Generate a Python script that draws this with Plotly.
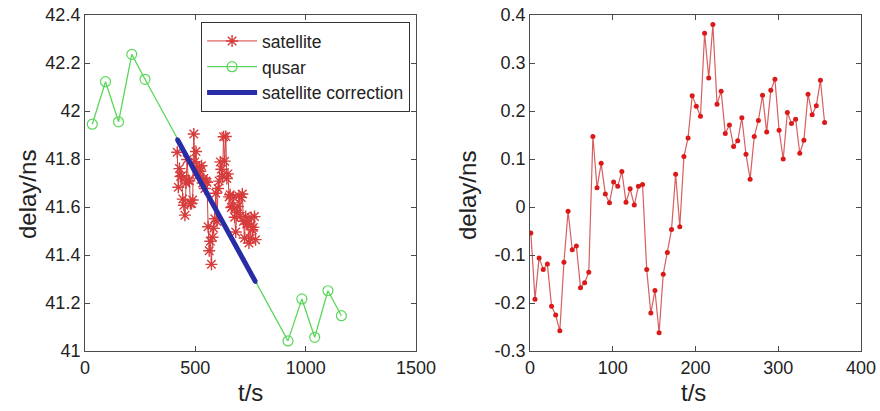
import plotly.graph_objects as go

# ---- left panel: absolute delays ----
qusar_time = [33, 93, 152, 212, 272, 920, 983, 1041, 1101, 1162]
qusar_delay = [41.945, 42.122, 41.955, 42.236, 42.132, 41.042, 41.217, 41.057, 41.251, 41.147]

sat_time = [418, 423, 428, 433, 438, 443, 448, 453, 458, 463, 468, 473, 478, 483, 488, 493,
            498, 503, 508, 513, 518, 523, 528, 533, 538, 543, 548, 553, 558, 563, 568, 573,
            578, 583, 588, 593, 598, 603, 608, 613, 618, 623, 628, 633, 638, 643, 648, 653,
            658, 663, 668, 673, 678, 683, 688, 693, 698, 703, 708, 713, 718, 723, 728, 733,
            738, 743, 748, 753, 758, 763, 768, 773]
sat_delay = [41.828, 41.682, 41.760, 41.727, 41.730, 41.633, 41.607, 41.566, 41.700, 41.798,
             41.710, 41.709, 41.614, 41.615, 41.629, 41.904, 41.788, 41.831, 41.759, 41.732,
             41.767, 41.749, 41.772, 41.700, 41.719, 41.677, 41.708, 41.703, 41.518, 41.418,
             41.457, 41.361, 41.474, 41.511, 41.551, 41.657, 41.540, 41.677, 41.708, 41.788,
             41.757, 41.728, 41.893, 41.791, 41.894, 41.719, 41.738, 41.642, 41.651, 41.598,
             41.602, 41.641, 41.557, 41.496, 41.577, 41.602, 41.646, 41.561, 41.640, 41.654,
             41.540, 41.471, 41.560, 41.529, 41.529, 41.450, 41.469, 41.556, 41.505, 41.515,
             41.560, 41.464]

corr_time = [418, 773]
corr_delay = [41.882, 41.288]

# ---- right panel: satellite residual after correction ----
res_time = [1, 6, 11, 16, 21, 26, 31, 36, 41, 46, 51, 56, 61, 66, 71, 76, 81, 86, 91, 96,
            101, 106, 111, 116, 121, 126, 131, 136, 141, 146, 151, 156, 161, 166, 171, 176,
            181, 186, 191, 196, 201, 206, 211, 216, 221, 226, 231, 236, 241, 246, 251, 256,
            261, 266, 271, 276, 281, 286, 291, 296, 301, 306, 311, 316, 321, 326, 331, 336,
            341, 346, 351, 356]
res_delay = [-0.054, -0.192, -0.106, -0.130, -0.119, -0.207, -0.225, -0.258, -0.115, -0.009,
             -0.089, -0.081, -0.168, -0.158, -0.136, 0.147, 0.040, 0.091, 0.027, 0.009,
             0.052, 0.043, 0.074, 0.010, 0.038, 0.004, 0.043, 0.047, -0.130, -0.221,
             -0.174, -0.262, -0.140, -0.095, -0.047, 0.068, -0.041, 0.105, 0.144, 0.232,
             0.210, 0.189, 0.362, 0.269, 0.380, 0.214, 0.241, 0.153, 0.171, 0.126,
             0.138, 0.186, 0.110, 0.058, 0.147, 0.180, 0.233, 0.156, 0.243, 0.266,
             0.160, 0.100, 0.197, 0.174, 0.183, 0.112, 0.139, 0.235, 0.192, 0.211,
             0.264, 0.176]

left_yticks = [41, 41.2, 41.4, 41.6, 41.8, 42, 42.2, 42.4]
left_ytext = ["41", "41.2", "41.4", "41.6", "41.8", "42", "42.2", "42.4"]
left_xticks = [0, 500, 1000, 1500]
right_yticks = [-0.3, -0.2, -0.1, 0, 0.1, 0.2, 0.3, 0.4]
right_ytext = ["-0.3", "-0.2", "-0.1", "0", "0.1", "0.2", "0.3", "0.4"]
right_xticks = [0, 100, 200, 300, 400]

FONT = "Liberation Sans, Arial, sans-serif"
RED = "rgb(230,25,25)"
GREEN = "rgb(90,215,90)"
BLUE = "rgb(40,45,165)"

fig = go.Figure()

fig.add_trace(go.Scatter(
    x=sat_time, y=sat_delay, name="satellite", mode="lines+markers",
    line=dict(color="rgb(215,60,60)", width=1),
    marker=dict(symbol="asterisk-open", size=10, line=dict(color=RED, width=1.4)),
    xaxis="x", yaxis="y"))
fig.add_trace(go.Scatter(
    x=qusar_time, y=qusar_delay, name="qusar", mode="lines+markers",
    line=dict(color=GREEN, width=1.3),
    marker=dict(symbol="circle-open", size=10, color=GREEN, line=dict(color=GREEN, width=1.2)),
    xaxis="x", yaxis="y"))
fig.add_trace(go.Scatter(
    x=corr_time, y=corr_delay, name="satellite correction", mode="lines+markers",
    line=dict(color=BLUE, width=5),
    marker=dict(symbol="circle", size=4, color=BLUE),
    xaxis="x", yaxis="y"))

fig.add_trace(go.Scatter(
    x=res_time, y=res_delay, mode="lines+markers", showlegend=False,
    line=dict(color="rgb(215,95,95)", width=1.2),
    marker=dict(symbol="circle", size=5, color="rgb(220,25,25)"),
    xaxis="x2", yaxis="y2"))

axis_common = dict(
    showline=True, linecolor="#4a4a4a", linewidth=1, mirror="allticks",
    ticks="inside", ticklen=5, tickcolor="#4a4a4a",
    showgrid=False, zeroline=False, automargin=False,
    tickfont=dict(family=FONT, size=18, color="#222"),
)

fig.update_layout(
    width=880, height=411,
    margin=dict(l=0, r=0, t=15, b=60),
    paper_bgcolor="white", plot_bgcolor="white",
    font=dict(family=FONT, color="#222"),
    xaxis=dict(domain=[0.0966, 0.4727], range=[0, 1500], tickvals=left_xticks, **axis_common),
    yaxis=dict(domain=[0, 1], range=[41, 42.4], tickvals=left_yticks, ticktext=left_ytext,
               anchor="x", **axis_common),
    xaxis2=dict(domain=[0.6023, 0.9784], range=[0, 400], tickvals=right_xticks,
                anchor="y2", **axis_common),
    yaxis2=dict(domain=[0, 1], range=[-0.3, 0.4], tickvals=right_yticks, ticktext=right_ytext,
                anchor="x2", **axis_common),
    legend=dict(
        x=0.466, xanchor="right", y=0.979, yanchor="top",
        bgcolor="white", bordercolor="#333", borderwidth=1,
        font=dict(family=FONT, size=17.5, color="#222"),
        tracegroupgap=0, itemwidth=50,
    ),
    showlegend=True,
)

# axis titles, positioned in pixels from the top-left corner
title_font = dict(family=FONT, size=24, color="#222")
titles = [
    ("delay/ns", 27, 195, -90),
    ("delay/ns", 467, 195, -90),
    ("t/s", 250, 392, 0),
    ("t/s", 693, 392, 0),
]
for text, px, py, angle in titles:
    fig.add_annotation(text=text, x=px / 880, y=(351 - py) / 336, xref="paper", yref="paper",
                       xanchor="center", yanchor="middle", showarrow=False,
                       textangle=angle, font=title_font)

fig.write_html("out.html")
